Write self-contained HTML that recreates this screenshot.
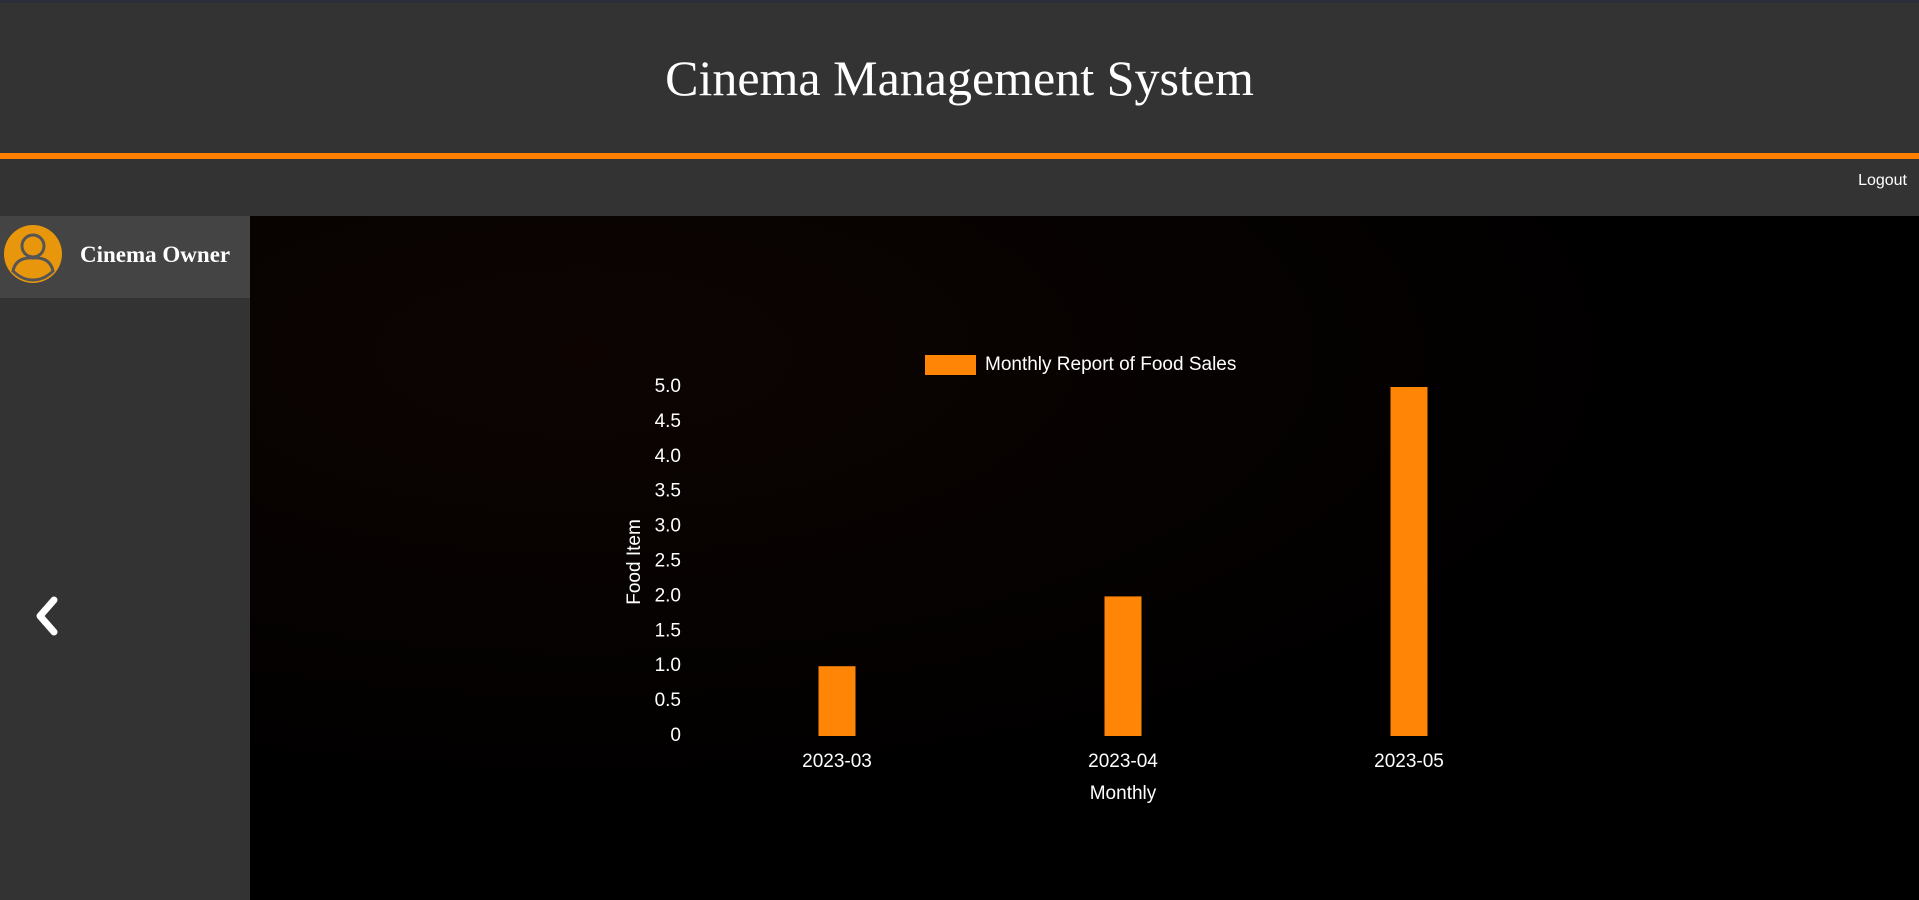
<!DOCTYPE html>
<html><head><meta charset="utf-8"><style>
body{margin:0;width:1919px;height:900px;overflow:hidden;background:#000;font-family:"Liberation Sans",sans-serif;position:relative}
#top{position:absolute;left:0;top:0;width:1919px;height:3px;background:#2c2e3a}
#header{position:absolute;left:0;top:3px;width:1919px;height:150px;background:#333}
#title{position:absolute;left:0;width:1919px;top:46px;text-align:center;color:#fff;font-family:"Liberation Serif",serif;font-size:50px}
#orange{position:absolute;left:0;top:153px;width:1919px;height:6px;background:#ff8000}
#nav{position:absolute;left:0;top:159px;width:1919px;height:57px;background:#333}
#logout{position:absolute;right:12px;top:172px;color:#fff;font-size:16px}
#side{position:absolute;left:0;top:216px;width:250px;height:684px;background:#333}
#prof{position:absolute;left:0;top:216px;width:250px;height:82px;background:#444}
#owner{position:absolute;left:80px;top:242px;color:#fff;font-family:"Liberation Serif",serif;font-weight:bold;font-size:23px}
#main{position:absolute;left:250px;top:216px;width:1669px;height:684px;background:radial-gradient(ellipse at 20% 20%,#0d0402,#000 60%)}
text{font-family:"Liberation Sans",sans-serif}
</style></head><body>
<div id="top"></div>
<div id="header"><div id="title">Cinema Management System</div></div>
<div id="orange"></div>
<div id="nav"></div>
<div id="logout">Logout</div>
<div id="side"></div>
<div id="prof">
<svg style="position:absolute;left:4px;top:9px" width="60" height="60"><circle cx="29" cy="29" r="29" fill="#e8960c"/><circle cx="29" cy="21" r="11" fill="none" stroke="#555" stroke-width="3"/><path d="M9 46 Q12 32 29 33 Q46 32 49 46 Q40 55 29 55 Q18 55 9 46Z" fill="none" stroke="#555" stroke-width="3"/></svg>
</div>
<div id="owner">Cinema Owner</div>
<svg style="position:absolute;left:30px;top:594px" width="34" height="44"><path d="M24 6 L10 22 L24 38" fill="none" stroke="#fff" stroke-width="7" stroke-linecap="round" stroke-linejoin="round"/></svg>
<div id="main"></div>
<svg id="chart" style="position:absolute;left:0;top:0" width="1919" height="900"></svg>
<script>
const categories=["2023-03","2023-04","2023-05"];
const values=[1,2,5];
const ticks=[0,0.5,1,1.5,2,2.5,3,3.5,4,4.5,5];
const tickLabels=["0","0.5","1.0","1.5","2.0","2.5","3.0","3.5","4.0","4.5","5.0"];
const NS="http://www.w3.org/2000/svg";
const svg=document.getElementById('chart');
const y0=736,y1=387,yMax=5;
function yS(v){return y0-(v/yMax)*(y0-y1);}
function xS(i){return 837+i*286;}
function mk(t,a,txt){const e=document.createElementNS(NS,t);for(const k in a)e.setAttribute(k,a[k]);if(txt!==undefined)e.textContent=txt;svg.appendChild(e);return e;}
ticks.forEach((v,i)=>{
 const t=mk('text',{x:681,y:yS(v)+5,'text-anchor':'end',fill:'#fff','font-size':19},tickLabels[i]);
 
 
});
categories.forEach((c,i)=>{
 const h=y0-yS(values[i]);
 const r=mk('rect',{x:xS(i)-18.5,y:yS(values[i]),width:37,height:h,fill:'#ff8507'});
 
 
 const t=mk('text',{x:xS(i),y:767,'text-anchor':'middle',fill:'#fff','font-size':19},c);
 
 
});
const xt=mk('text',{x:1123,y:799,'text-anchor':'middle',fill:'#fff','font-size':19},'Monthly');


const yt=mk('text',{x:0,y:0,'text-anchor':'middle',fill:'#fff','font-size':19,transform:'translate(640,562) rotate(-90)'},'Food Item');


const lb=mk('rect',{x:925,y:355,width:51,height:20,fill:'#ff8507'});


const lt=mk('text',{x:985,y:370,fill:'#fff','font-size':19},'Monthly Report of Food Sales');


</script>
</body></html>
